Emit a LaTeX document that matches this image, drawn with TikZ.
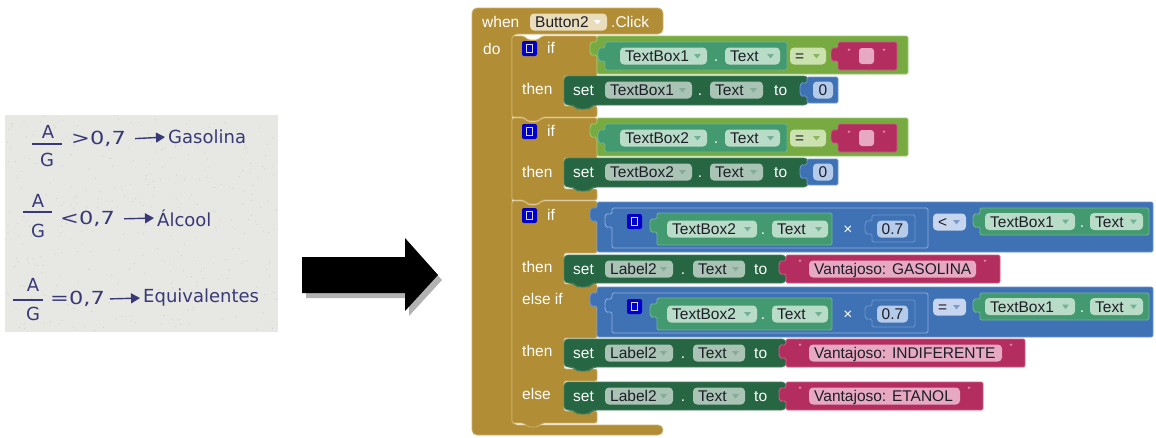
\documentclass[tikz,border=0pt]{standalone}
\usepackage{fontspec}
\setmainfont{Liberation Sans}
\newfontfamily\hwfont{DejaVu Sans}
\usetikzlibrary{arrows.meta}

\definecolor{ctrl}{HTML}{B18E35}
\definecolor{ctrledge}{HTML}{CDB26E}
\definecolor{logic}{HTML}{77AB41}
\definecolor{logicedge}{HTML}{9CC86D}
\definecolor{logicpill}{HTML}{CBE1B0}
\definecolor{comp}{HTML}{439970}
\definecolor{compedge}{HTML}{6DB892}
\definecolor{comppill}{HTML}{B8DCC8}
\definecolor{setter}{HTML}{266643}
\definecolor{setteredge}{HTML}{46805F}
\definecolor{setterpill}{HTML}{A9C3B4}
\definecolor{mathc}{HTML}{3F71B5}
\definecolor{mathedge}{HTML}{6E96CE}
\definecolor{mathinner}{HTML}{8FAEDB}
\definecolor{mathpill}{HTML}{B4CBEA}
\definecolor{mathoppill}{HTML}{C7D6EE}
\definecolor{textc}{HTML}{B32D5E}
\definecolor{textedge}{HTML}{CC5E86}
\definecolor{textpill}{HTML}{E6A9C1}
\definecolor{mutator}{HTML}{0000C8}
\definecolor{evpill}{HTML}{E9DDBB}
\definecolor{ink}{HTML}{3A3978}
\definecolor{paper}{HTML}{E7E7E3}
\definecolor{pilltxt}{HTML}{1E1E28}
\definecolor{quotec}{HTML}{F2C8D8}

\newcommand\blkfont{\fontsize{15.5}{17}\selectfont}

\tikzset{
  lbl/.style={inner sep=0pt, text height=11pt, text depth=0pt, font=\blkfont, text=white},
  ptxt/.style={inner sep=0pt, text height=11pt, text depth=0pt, font=\blkfont, text=pilltxt},
  qm/.style={inner sep=0pt, font=\fontsize{9}{9}\selectfont, text=quotec},
  hw/.style={inner sep=1pt, font=\hwfont\fontsize{18}{20}\selectfont, text=ink},
  hwbar/.style={draw=ink, line width=1.1pt},
  hwarrow/.style={draw=ink, line width=1.4pt, -{Triangle[length=9pt,width=10pt]}},
  ifblk/.style={fill=ctrl, draw=ctrledge, line width=0.8pt, rounded corners=2pt},
}

% value block with an output tab on its left side
\newcommand\valblk[6]{%
  \filldraw[fill=#1, draw=#2, line width=0.8pt, rounded corners=1.5pt]
    (#3,#4) -- (#5,#4) -- (#5,#6) -- (#3,#6) -- (#3,{#4+19})
    .. controls ({#3-3},{#4+19}) and ({#3-7},{#4+21}) .. ({#3-7},{#4+12.5})
    .. controls ({#3-7},{#4+4}) and ({#3-3},{#4+6}) .. (#3,{#4+6}) -- cycle;}

% statement block with a bottom connector bump
\newcommand\stmblk[6]{%
  \filldraw[fill=#1, draw=#2, line width=0.8pt, rounded corners=4pt]
    (#3,#4) -- (#5,#4) -- (#5,#6) -- ({#3+29},#6) -- ({#3+25},{#6+4})
    -- ({#3+13},{#6+4}) -- ({#3+9},#6) -- (#3,#6) -- cycle;}

% dropdown field: name, x1, x2, y centre, text, fill, arrow colour
\newcommand\ddpill[7]{%
  \fill[#6, rounded corners=4pt] (#2,{#4-8.5}) rectangle (#3,{#4+8.5});
  \node[ptxt, anchor=west] (#1) at ({#2+5},#4) {#5};
  \fill[#7] ({#3-13},{#4-2}) -- ({#3-6},{#4-2}) -- ({#3-9.5},{#4+2.5}) -- cycle;}

% plain field with centred text
\newcommand\plainpill[6]{%
  \fill[#6, rounded corners=4pt] (#2,{#4-8.5}) rectangle (#3,{#4+8.5});
  \node[ptxt] (#1) at ({(#2+#3)/2},#4) {#5};}

% mutator icon
\newcommand\mutbox[2]{%
  \fill[mutator, rounded corners=2pt] (#1,#2) rectangle ({#1+15},{#2+15});
  \draw[white!85!mutator, line width=1pt] ({#1+4.5},{#2+3.5}) rectangle ({#1+10.5},{#2+11.5});}

% "is the text box empty?" test with its reset statement
\newcommand\emptytest[2]{%
  \valblk{logic}{logicedge}{597}{36}{908}{74}
  \valblk{comp}{compedge}{605}{42}{787}{70}
  \ddpill{get#1}{620}{707}{56}{#2}{comppill}{comp!75}
  \node[lbl] (getdot#1) at (716,56) {.};
  \ddpill{getprop#1}{725}{780}{56}{Text}{comppill}{comp!75}
  \ddpill{eq#1}{790}{826}{56}{=}{logicpill}{logic!85}
  \valblk{textc}{textedge}{838}{42}{897}{70}
  \node[qm] (qa#1) at (849,52) {"};
  \node[qm] (qb#1) at (884,52) {"};
  \fill[textpill, rounded corners=3pt] (859,48) rectangle (874,64);
  \stmblk{setter}{setteredge}{564}{76}{808}{105}
  \node[lbl, anchor=west] (set#1) at (573,90) {set};
  \ddpill{setobj#1}{605}{692}{90}{#2}{setterpill}{setter!55}
  \node[lbl] (setdot#1) at (700,90) {.};
  \ddpill{setprop#1}{710}{763}{90}{Text}{setterpill}{setter!55}
  \node[lbl, anchor=west] (to#1) at (774,90) {to};
  \valblk{mathc}{mathedge}{807}{77}{838}{103}
  \plainpill{zero#1}{813}{833}{90}{0}{mathpill}}

% ratio comparison: TextBox2.Text x 0.7 <op> TextBox1.Text
\newcommand\mathtest[2]{%
  \valblk{mathc}{mathedge}{597}{202}{1153}{252}
  \valblk{mathc}{mathinner}{612}{208}{928}{248}
  \mutbox{627}{214}
  \valblk{comp}{compedge}{657}{213}{832}{245}
  \ddpill{lget#1}{667}{757}{229}{TextBox2}{comppill}{comp!75}
  \node[lbl] (ldot#1) at (763,229) {.};
  \ddpill{lprop#1}{772}{828}{229}{Text}{comppill}{comp!75}
  \node[lbl] (times#1) at (848,229) {×};
  \valblk{mathc}{mathedge}{872}{215}{915}{242}
  \plainpill{num#1}{877}{908}{229}{0.7}{mathpill}
  \ddpill{op#1}{933}{966}{222}{#2}{mathoppill}{mathc!70}
  \valblk{comp}{compedge}{980}{208}{1149}{235}
  \ddpill{rget#1}{985}{1075}{221.5}{TextBox1}{comppill}{comp!75}
  \node[lbl] (rdot#1) at (1082,221.5) {.};
  \ddpill{rprop#1}{1090}{1143}{221.5}{Text}{comppill}{comp!75}}

% set Label2.Text to a message
\newcommand\setlabel[4]{%
  \stmblk{setter}{setteredge}{564}{255}{786}{283}
  \node[lbl, anchor=west] (lset#1) at (573,269) {set};
  \ddpill{lobj#1}{605}{673}{269}{Label2}{setterpill}{setter!55}
  \node[lbl] (lsdot#1) at (683,269) {.};
  \ddpill{lsprop#1}{693}{745}{269}{Text}{setterpill}{setter!55}
  \node[lbl, anchor=west] (lto#1) at (754,269) {to};
  \valblk{textc}{textedge}{786}{255}{#3}{283}
  \node[qm] (lqa#1) at (800,263) {"};
  \fill[textpill, rounded corners=4pt] (809,260.5) rectangle (#4,277.5);
  \node[ptxt, anchor=west] (msg#1) at (814,269) {#2};
  \node[qm] (lqb#1) at ({#4+9},263) {"};}

\begin{document}
\begin{tikzpicture}[x=1pt,y=-1pt]
\fill[white] (0,0) rectangle (1156,437);
\useasboundingbox (0,0) rectangle (1156,437);

% ---------- handwritten note ----------
\fill[paper] (5,115) rectangle (278,332);
\pgfmathsetseed{42}
\foreach \i in {1,...,350}{%
  \pgfmathsetmacro\px{6+271*rnd}\pgfmathsetmacro\py{116+215*rnd}
  \fill[black!30, opacity=0.45] (\px,\py) circle (0.6);}

\node[hw] (a1) at (48,132) {A};
\node[hw] (d1) at (47,160) {G};
\draw[hwbar] (32,144) -- (62,144);
\node[hw, anchor=west] (e1) at (70,139) {\scalebox{1.25}[1]{>0,7}};
\node[hw, anchor=west] (w1) at (167,137) {Gasolina};
\draw[hwarrow, shorten <=8pt, shorten >=2pt] (e1.east) -- (w1.west);

\node[hw] (a2) at (38,201) {A};
\node[hw] (d2) at (38,231) {G};
\draw[hwbar] (23,212) -- (52,212);
\node[hw, anchor=west] (e2) at (59,219) {\scalebox{1.25}[1]{<0,7}};
\node[hw, anchor=west] (w2) at (156,218) {Álcool};
\draw[hwarrow, shorten <=8pt, shorten >=2pt] (e2.east) -- (w2.west);

\node[hw] (a3) at (33,285) {A};
\node[hw] (d3) at (33,314) {G};
\draw[hwbar] (13,300) -- (43,300);
\node[hw, anchor=west] (e3) at (49,299) {\scalebox{1.25}[1]{=0,7}};
\node[hw, anchor=west] (w3) at (142,298) {Equivalentes};
\draw[hwarrow, shorten <=4pt, shorten >=2pt] (e3.east) -- (w3.west);

% ---------- block arrow ----------
\fill[black!30] (306,262) -- (409,262) -- (409,243) -- (442,280) -- (409,316) -- (409,298) -- (306,298) -- cycle;
\fill[black] (302,257) -- (405,257) -- (405,238) -- (438,275) -- (405,311) -- (405,293) -- (302,293) -- cycle;

% ---------- event handler ----------
\filldraw[fill=ctrl, draw=ctrledge, line width=0.8pt, rounded corners=5pt]
  (472,8) -- (663,8) -- (663,34) -- (512,34) -- (512,425) -- (663,425) -- (663,435) -- (472,435) -- cycle;

\filldraw[ifblk] (512,36) -- (524,36) -- (528,40) -- (538,40) -- (542,36) -- (597,36) -- (597,76)
  -- (564,76) -- (564,106) -- (597,106) -- (597,117) -- (542,117) -- (538,121) -- (528,121) -- (524,117) -- (512,117) -- cycle;
\filldraw[ifblk] (512,118) -- (524,118) -- (528,122) -- (538,122) -- (542,118) -- (597,118) -- (597,158)
  -- (564,158) -- (564,189) -- (597,189) -- (597,200) -- (542,200) -- (538,204) -- (528,204) -- (524,200) -- (512,200) -- cycle;
\filldraw[ifblk] (512,201) -- (524,201) -- (528,205) -- (538,205) -- (542,201) -- (597,201) -- (597,253)
  -- (564,253) -- (564,284) -- (597,284) -- (597,338) -- (564,338) -- (564,369) -- (597,369) -- (597,381)
  -- (564,381) -- (564,411) -- (597,411) -- (597,423) -- (542,423) -- (538,427) -- (528,427) -- (524,423) -- (512,423) -- cycle;

\emptytest{a}{TextBox1}
\begin{scope}[yshift=-82pt]
  \emptytest{b}{TextBox2}
\end{scope}

\mathtest{a}{<}
\begin{scope}[yshift=-85pt]
  \mathtest{b}{=}
\end{scope}

\setlabel{a}{Vantajoso: GASOLINA}{1000}{976}
\begin{scope}[yshift=-84pt]
  \setlabel{b}{Vantajoso: INDIFERENTE}{1025}{1002}
\end{scope}
\begin{scope}[yshift=-127pt]
  \setlabel{c}{Vantajoso: ETANOL}{983}{960}
\end{scope}

% header and labels
\node[lbl, anchor=west] (when) at (482,22) {when};
\ddpill{btn}{530}{607}{22}{Button2}{evpill}{white}
\node[lbl, anchor=west] (click) at (611,22) {.Click};
\node[lbl, anchor=west] (do) at (483,49) {do};

\mutbox{522}{41}
\mutbox{522}{124}
\mutbox{522}{208}
\node[lbl, anchor=west] (if1) at (547,48) {if};
\node[lbl, anchor=west] (if2) at (547,131) {if};
\node[lbl, anchor=west] (if3) at (547,215) {if};
\node[lbl, anchor=west] (then1) at (522,89) {then};
\node[lbl, anchor=west] (then2) at (522,172) {then};
\node[lbl, anchor=west] (then3) at (522,267) {then};
\node[lbl, anchor=west] (elseif) at (522,299) {else if};
\node[lbl, anchor=west] (then4) at (522,351) {then};
\node[lbl, anchor=west] (else) at (522,394) {else};
\end{tikzpicture}
\end{document}
